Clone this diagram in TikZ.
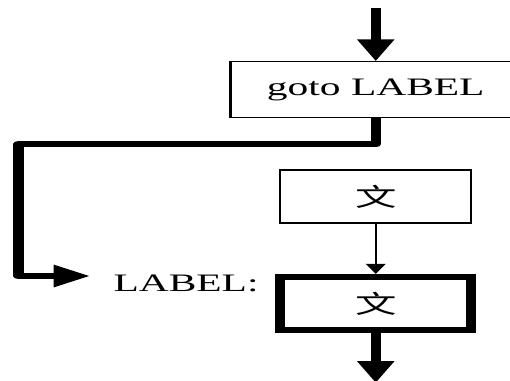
\documentclass[tikz,border=0pt]{standalone}
\usepackage{fontspec}
\setmainfont{Liberation Serif}
\newfontfamily\cjk{Noto Sans CJK SC}
\usetikzlibrary{arrows.meta}

\newcommand{\boxfont}{\fontsize{14.3}{17}\selectfont}

\begin{document}
\begin{tikzpicture}[x=0.02cm,y=-0.02cm,
  box/.style={draw, line width=0.8pt, minimum width=2.315cm, minimum height=1.06cm,
    inner sep=0pt, font=\boxfont},
  heavybox/.style={box, line width=3.6pt},
  flow/.style={line width=3.6pt, line join=round, -{Triangle[length=12.5pt,width=12pt]}},
  link/.style={line width=0.8pt, -{Triangle[length=5.7pt,width=6.8pt]}}]
\useasboundingbox (0,0) rectangle (510,380);

% the chart is drawn narrow and then stretched sideways
\begin{scope}[transform canvas={xscale=1.65}, x=0.01212cm]
% the goto box is left open on the right, where it runs off the edge
\node[box, draw=none, minimum width=3.49cm, minimum height=1.1cm] (goto) at (376,89.5)
  {goto LABEL};
\draw[line width=0.8pt] (goto.north east) -- (goto.north west)
  -- (goto.south west) -- (goto.south east);
\node[box] (stmt) at (376,196.5) {\cjk 文};
\node[heavybox] (target) at (376,303.5) {\cjk 文};
\node[font=\boxfont, anchor=west, inner sep=0pt] (lbl) at (113,283) {LABEL:};

\coordinate (entry) at (376,8);
\coordinate (exit) at (376,383);
\coordinate (jump) at (90,276);

\draw[flow] (entry) -- (goto);
\draw[flow] (goto.south) -- ++(0,26.5) -| (18.5,276) -- (jump);
\draw[link] (stmt) -- (target);
\draw[flow] (target) -- (exit);
\end{scope}
\end{tikzpicture}
\end{document}
